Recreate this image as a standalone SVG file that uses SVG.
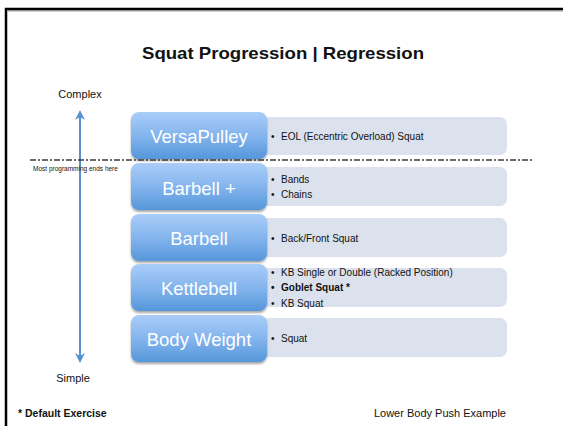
<svg xmlns="http://www.w3.org/2000/svg" width="563" height="426" viewBox="0 0 563 426">
  <defs>
    <linearGradient id="blueFill" x1="0" y1="0" x2="0" y2="1">
      <stop offset="0" stop-color="#aacdf9"/>
      <stop offset="0.55" stop-color="#80b2ec"/>
      <stop offset="1" stop-color="#5596da"/>
    </linearGradient>
    <filter id="drop" x="-10%" y="-10%" width="120%" height="130%">
      <feGaussianBlur in="SourceAlpha" stdDeviation="1.2"/>
      <feOffset dx="0" dy="1.5" result="b"/>
      <feComponentTransfer><feFuncA type="linear" slope="0.35"/></feComponentTransfer>
      <feMerge><feMergeNode/><feMergeNode in="SourceGraphic"/></feMerge>
    </filter>
    <marker id="head" viewBox="0 0 10 10" refX="5" refY="5" markerWidth="5" markerHeight="5" orient="auto-start-reverse">
      <path d="M0,0 L10,5 L0,10 L3,5 Z" fill="#5b90d0"/>
    </marker>
    <style>
      .txt { font-family: "Liberation Sans", Arial, sans-serif; fill: #111; }
      .step { fill: url(#blueFill); filter: url(#drop); }
      .detail { fill: #dbe2ee; }
      .stepLabel { font-family: "Liberation Sans", Arial, sans-serif; font-size: 18.5px; fill: #ffffff; text-anchor: middle; }
      .item { font-family: "Liberation Sans", Arial, sans-serif; font-size: 10px; fill: #111; }
    </style>
  </defs>

  <rect x="0" y="0" width="563" height="426" fill="#ffffff"/>

  <!-- slide frame -->
  <line x1="8" y1="11" x2="563" y2="11" stroke="#9a9a9a" stroke-width="1"/>
  <path d="M6,426 L6,9 L563,9" fill="none" stroke="#000" stroke-width="2.5"/>

  <text class="txt" x="283" y="59" font-size="17px" font-weight="bold" text-anchor="middle" textLength="282" lengthAdjust="spacingAndGlyphs">Squat Progression | Regression</text>

  <!-- detail panels behind the steps -->
  <g id="details">
    <rect class="detail" x="250" y="117" width="257" height="38" rx="7"/>
    <rect class="detail" x="250" y="167" width="257" height="39" rx="7"/>
    <rect class="detail" x="250" y="218" width="257" height="39" rx="7"/>
    <rect class="detail" x="250" y="268" width="257" height="39" rx="7"/>
    <rect class="detail" x="250" y="318" width="257" height="39" rx="7"/>
  </g>

  <g id="versapulley">
    <rect class="step" x="131" y="112" width="136" height="47" rx="8"/>
    <text class="stepLabel" x="199" y="143">VersaPulley</text>
    <text class="item" x="271" y="140">•<tspan x="281">EOL (Eccentric Overload) Squat</tspan></text>
  </g>

  <g id="barbell-plus">
    <rect class="step" x="131" y="163" width="136" height="47" rx="8"/>
    <text class="stepLabel" x="199" y="195">Barbell +</text>
    <text class="item" x="271" y="183">•<tspan x="281">Bands</tspan></text>
    <text class="item" x="271" y="198">•<tspan x="281">Chains</tspan></text>
  </g>

  <g id="barbell">
    <rect class="step" x="131" y="214" width="136" height="47" rx="8"/>
    <text class="stepLabel" x="199" y="245">Barbell</text>
    <text class="item" x="271" y="242">•<tspan x="281">Back/Front Squat</tspan></text>
  </g>

  <g id="kettlebell">
    <rect class="step" x="131" y="264" width="136" height="47" rx="8"/>
    <text class="stepLabel" x="199" y="295">Kettlebell</text>
    <text class="item" x="271" y="276">•<tspan x="281">KB Single or Double (Racked Position)</tspan></text>
    <text class="item" x="271" y="291" font-weight="bold">•<tspan x="281">Goblet Squat *</tspan></text>
    <text class="item" x="271" y="307">•<tspan x="281">KB Squat</tspan></text>
  </g>

  <g id="body-weight">
    <rect class="step" x="131" y="315" width="136" height="47" rx="8"/>
    <text class="stepLabel" x="199" y="346">Body Weight</text>
    <text class="item" x="271" y="342">•<tspan x="281">Squat</tspan></text>
  </g>

  <!-- scale and cut-off line -->
  <g id="connectors">
    <line x1="80" y1="115" x2="80" y2="358" stroke="#5b90d0" stroke-width="2" marker-start="url(#head)" marker-end="url(#head)"/>
    <line x1="30" y1="160" x2="534" y2="160" stroke="#3d3d3d" stroke-width="1.5" stroke-dasharray="6 2 2 2"/>
  </g>

  <g id="scale-labels">
    <text class="txt" x="80" y="98" font-size="11px" text-anchor="middle">Complex</text>
    <text class="txt" x="73" y="382" font-size="11px" text-anchor="middle">Simple</text>
    <text class="txt" x="33" y="171" font-size="6.5px">Most programming ends here</text>
  </g>

  <text class="txt" x="18" y="417" font-size="10.5px" font-weight="bold">* Default Exercise</text>
  <text class="txt" x="506" y="417" font-size="11px" text-anchor="end">Lower Body Push Example</text>
</svg>
